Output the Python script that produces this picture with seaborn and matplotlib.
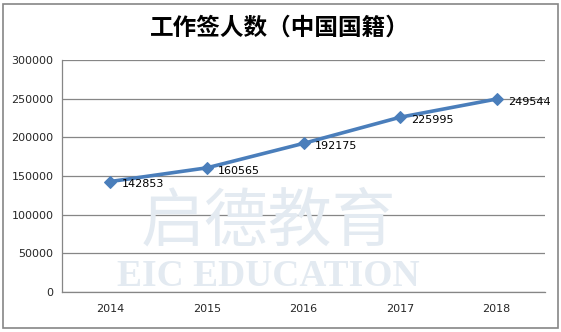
import matplotlib
matplotlib.use("Agg")
import matplotlib.pyplot as plt
import matplotlib.patches as patches
import seaborn as sns
import pandas as pd

years = ["2014", "2015", "2016", "2017", "2018"]
counts = [142853, 160565, 192175, 225995, 249544]
title = "工作签人数（中国国籍）"
yticks = [0, 50000, 100000, 150000, 200000, 250000, 300000]

sns.set_style("white")
plt.rcParams['font.family'] = ['Noto Sans CJK SC', 'DejaVu Sans']

W, H = 561, 332
fig = plt.figure(figsize=(W / 100, H / 100), dpi=100)
fig.patch.set_facecolor("white")

# outer chart border
fig.patches.append(patches.Rectangle((3 / W, 4 / H), 555 / W, 324 / H, transform=fig.transFigure,
                                     fill=False, edgecolor="#868686", linewidth=1.2, zorder=0))

# watermark
wm = "#e3eaf1"
fig.text(268 / W, (H - 222) / H, "启德教育", fontsize=46, color=wm, ha="center", va="center",
         family=['Noto Sans CJK SC'], zorder=0)
fig.text(268 / W, (H - 276) / H, "EIC EDUCATION", fontsize=27, color=wm, ha="center", va="center",
         family=['Liberation Serif'], fontweight="bold", zorder=0)

ax = fig.add_axes([62 / W, (H - 292) / H, (545 - 62) / W, (292 - 60) / H])
ax.patch.set_alpha(0)

df = pd.DataFrame({"year": list(range(len(years))), "count": counts})
sns.lineplot(data=df, x="year", y="count", ax=ax, color="#4a7ebb", linewidth=2.6,
             marker="D", markersize=6.5, markeredgecolor="#4a7ebb", zorder=3)

for i, v in enumerate(counts):
    ax.annotate(str(v), (i, v), xytext=(8, -2), textcoords="offset points",
                ha="left", va="center", fontsize=8, color="black",
                family=['DejaVu Sans'])

ax.set_xlim(-0.5, len(years) - 0.5)
ax.set_ylim(0, 300000)
ax.set_yticks(yticks)
ax.set_yticklabels([str(t) for t in yticks], fontsize=8, family=['DejaVu Sans'])
ax.set_xticks(range(len(years)))
ax.set_xticklabels(years, fontsize=8, family=['DejaVu Sans'])
ax.set_xticks([i - 0.5 for i in range(len(years) + 1)], minor=True)
ax.tick_params(axis="x", which="major", length=0, pad=9)
ax.tick_params(axis="x", which="minor", length=5, color="#868686", direction="out")
ax.tick_params(axis="y", length=4, color="#868686", direction="out", pad=2)
ax.set_xlabel("")
ax.set_ylabel("")
ax.grid(axis="y", color="#868686", linewidth=0.9, zorder=1)
ax.set_axisbelow(True)
for s in ["top", "right"]:
    ax.spines[s].set_visible(False)
for s in ["left", "bottom"]:
    ax.spines[s].set_color("#868686")
    ax.spines[s].set_linewidth(0.9)

fig.text(280 / W, (H - 28) / H, title, fontsize=17, ha="center", va="center",
         family=['Noto Sans CJK SC'], fontweight="bold", color="black")

fig.savefig("out.png", dpi=100, facecolor="white")
